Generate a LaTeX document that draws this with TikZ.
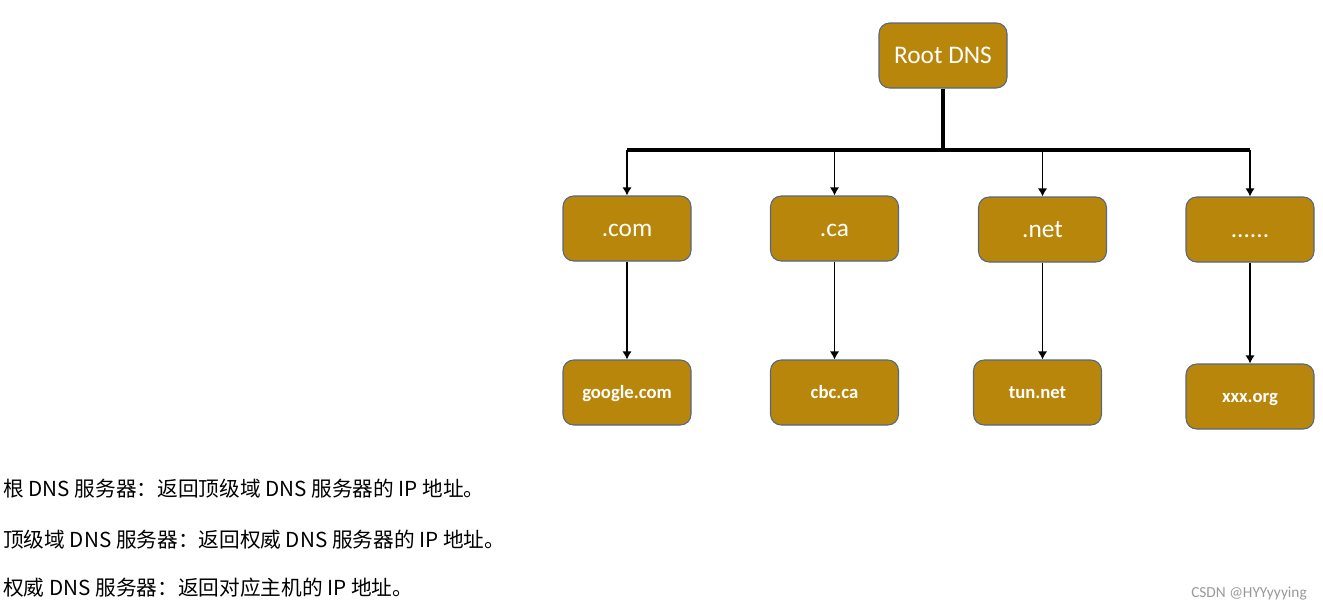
\documentclass[tikz,border=0pt]{standalone}
\usepackage{fontspec}
\setsansfont{Carlito}
\newfontfamily\cjk{Noto Sans CJK SC}
\usepackage{tikz}
\usetikzlibrary{calc, positioning, arrows.meta}

\definecolor{dnsgold}{RGB}{184,134,11}
\definecolor{dnsedge}{RGB}{84,104,132}

\begin{document}
\begin{tikzpicture}[x=0.75pt, y=-0.75pt, >={Latex[length=6pt,width=7pt]},
    dnsbox/.style={draw=dnsedge, line width=0.8pt, fill=dnsgold, rounded corners=8pt,
        minimum width=96pt, minimum height=48.75pt, inner sep=0pt, text=white,
        text height=12pt, text depth=0pt,
        font=\sffamily\fontsize{19}{22}\selectfont},
    hostbox/.style={dnsbox, text height=9pt,
        font=\sffamily\bfseries\fontsize{14}{17}\selectfont},
    bus/.style={line width=2.8pt},
    link/.style={->, line width=1.4pt},
    note/.style={anchor=west, inner sep=0pt, font=\cjk\fontsize{15.5}{18}\selectfont}]
    \useasboundingbox (0,0) rectangle (1323,611);

    % Root
    \node[dnsbox] (root) at (943,55.5) {Root DNS};

    % Top-level domains
    \node[dnsbox] (com) at (627,228.5) {.com};
    \node[dnsbox] (ca) at (834.5,228.5) {.ca};
    \node[dnsbox] (net) at (1042.5,229.5) {.net};
    \node[dnsbox] (more) at (1250,229.5) {......};

    % Authoritative
    \node[hostbox] (google) at (627,392.5) {google.com};
    \node[hostbox] (cbc) at (834.5,392.5) {cbc.ca};
    \node[hostbox] (tun) at (1037.5,392.5) {tun.net};
    \node[hostbox] (xxx) at (1250,396.5) {xxx.org};

    % Bus from the root
    \coordinate (fork) at (943,150);
    \draw[bus] (root.south) -- (fork);
    \draw[bus] (com.north |- fork) -- (more.north |- fork);
    \foreach \d in {com, ca, net, more}
        \draw[link] (\d.north |- fork) -- (\d.north);

    % Down to the hosts
    \draw[link] (com.south) -- (google.north);
    \draw[link] (ca.south) -- (cbc.north);
    \draw[link] (net.south) -- (net.south |- tun.north);
    \draw[link] (more.south) -- (xxx.north);

    % Notes
    \node[note] (n1) at (3,489) {根 DNS 服务器：返回顶级域 DNS 服务器的 IP 地址。};
    \node[note] (n2) at (3,540) {顶级域 DNS 服务器：返回权威 DNS 服务器的 IP 地址。};
    \node[note] (n3) at (3,588) {权威 DNS 服务器：返回对应主机的 IP 地址。};
    \node[anchor=east, inner sep=0pt, text=black!40, font=\sffamily\fontsize{11.5}{13}\selectfont]
        (mark) at (1307,594) {CSDN @HYYyyying};
\end{tikzpicture}
\end{document}
